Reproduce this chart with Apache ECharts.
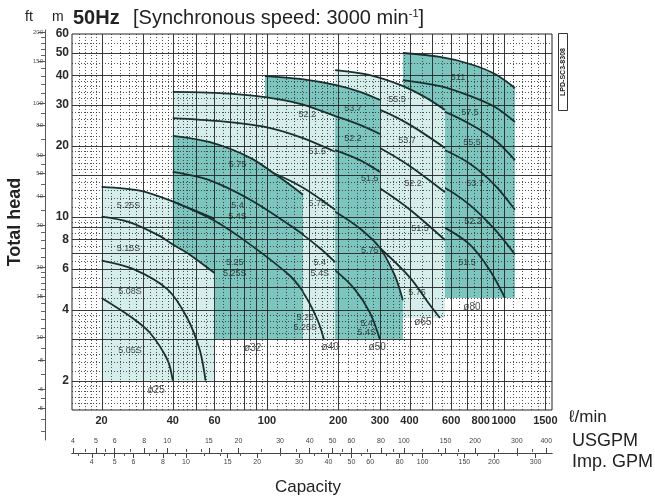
<!DOCTYPE html>
<html>
<head>
<meta charset="utf-8">
<title>LPD 50Hz</title>
<script src="https://cdn.jsdelivr.net/npm/echarts@6.0.0/dist/echarts.min.js"></script>
<style>
  html, body { margin: 0; padding: 0; background: #fff; }
  #chart { width: 655px; height: 499px; }
</style>
</head>
<body>
<div id="chart"></div>
<script>
// axis ranges: capacity (l/min) and total head (m)
const capRange = [15, 1600];
const headRange = [1.5, 60];
const ftRange = [3.66, 204.7];

// tick labels
const capTicks = [20, 40, 60, 100, 200, 300, 400, 600, 800, 1000, 1500];
const headTicks = [2, 4, 6, 8, 10, 20, 30, 40, 50, 60];
const ftTicks = [5, 6, 8, 10, 15, 20, 30, 40, 50, 60, 80, 100, 150, 200];
const ftMinorTicks = [4, 4.5, 5.5, 7, 9, 11, 12, 13, 14, 16, 17, 18, 19, 22, 24, 26, 28, 35, 45, 55, 70, 90, 110, 120, 130, 140, 160, 170, 180, 190];
const usgpmTicks = [4, 5, 6, 8, 10, 15, 20, 30, 40, 50, 60, 80, 100, 150, 200, 300, 400];
const usgpmMinorTicks = [4.5, 5.5, 7, 9, 12, 14, 17, 25, 35, 45, 55, 70, 90, 120, 140, 170, 250, 350];
const impTicks = [4, 5, 6, 8, 10, 15, 20, 30, 40, 50, 60, 80, 100, 150, 200, 300];
const impMinorTicks = [3.5, 4.5, 5.5, 7, 9, 12, 14, 17, 25, 35, 45, 55, 70, 90, 120, 140, 170, 250];
const LPM_PER_USGAL = 3.785;
const LPM_PER_IMPGAL = 4.546;

// graph paper lines
const capSolid = [20, 30, 40, 50, 60, 70, 80, 90, 100, 150, 200, 300, 400, 500, 600, 700, 800, 900, 1000, 1500];
const capDotted = [16, 17, 18, 19, 22, 24, 26, 28, 32, 34, 36, 38, 42, 44, 46, 48, 55, 65, 75, 85, 95,
  110, 120, 130, 140, 160, 170, 180, 190, 220, 240, 260, 280, 320, 340, 360, 380, 450, 550, 650, 750, 850, 950,
  1100, 1200, 1300, 1400];
const headSolid = [2, 3, 4, 5, 6, 7, 8, 9, 10, 15, 20, 30, 40, 50];
const headDotted = [1.6, 1.7, 1.8, 1.9, 2.2, 2.4, 2.6, 2.8, 3.2, 3.4, 3.6, 3.8, 4.5, 5.5, 6.5, 7.5, 8.5, 9.5,
  11, 12, 13, 14, 16, 17, 18, 19, 22, 24, 26, 28, 32, 34, 36, 38, 45, 55];

// pump curves [l/min, m]
// ø80
const c80_511 = [[375, 49.8], [538, 47.9], [720, 44.7], [919, 40.5], [1116, 35.3]];
const c80_575 = [[375, 38.2], [538, 36.0], [720, 32.7], [919, 29.3], [1116, 25.3]];
const c80_555 = [[375, 31.4], [538, 28.5], [720, 24.8], [919, 21.2], [1116, 17.4]];
const c80_537 = [[375, 22.3], [538, 19.6], [720, 16.8], [919, 13.6], [1116, 10.7]];
const c80_522 = [[375, 15.5], [538, 13.6], [720, 11.2], [919, 8.8], [1116, 6.9]];
const c80_515 = [[375, 10.7], [538, 9.2], [720, 7.6], [875, 5.9], [1013, 4.5]];
// ø65
const c65_555 = [[194, 42.1], [272, 40.1], [365, 36.4], [465, 32.3], [565, 28.5]];
const c65_537 = [[194, 33.0], [300, 28.5], [402, 24.6], [565, 19.6]];
const c65_522 = [[194, 24.6], [300, 19.6], [402, 16.4], [565, 12.7]];
const c65_515 = [[194, 17.4], [300, 13.2], [402, 10.7], [565, 7.95]];
const c65_575 = [[194, 10.7], [300, 7.35], [402, 5.5], [488, 4.2], [538, 3.7]];
// ø50
const c50_537 = [[98, 39.7], [138, 38.6], [194, 36.4], [247, 34.0], [300, 31.4]];
const c50_522 = [[98, 31.4], [138, 29.3], [194, 26.8], [247, 24.6], [300, 22.5]];
const c50_515 = [[98, 23.9], [138, 21.6], [194, 19.2], [247, 17.4], [300, 15.5]];
const c50_575 = [[98, 14.6], [138, 12.7], [194, 10.5], [247, 8.9], [300, 7.35], [347, 5.6], [375, 4.4]];
const c50_54 = [[98, 9.2], [138, 7.6], [194, 5.9], [235, 4.9], [272, 3.9], [300, 3.0]];
// ø40
const c40_522 = [[40, 34.0], [63, 33.6], [98, 32.3], [138, 30.2], [194, 26.8]];
const c40_515 = [[40, 26.3], [63, 25.5], [98, 24.1], [138, 21.8], [194, 18.9]];
const c40_575 = [[40, 19.2], [63, 17.8], [98, 15.8], [138, 13.5], [194, 10.7]];
const c40_54 = [[40, 15.5], [57, 14.3], [85, 11.8], [125, 9.2], [167, 7.35], [194, 6.4]];
const c40_525 = [[40, 11.6], [59, 9.5], [85, 7.6], [125, 5.6], [145, 4.6], [164, 3.6], [174, 3.0]];
// ø32
const c32_575 = [[40, 22.1], [57, 20.8], [85, 17.8], [113, 14.7], [142, 12.4]];
const c32_54 = [[40, 15.5], [57, 14.3], [85, 11.8], [125, 9.2], [142, 8.4]];
const c32_525 = [[40, 11.6], [60, 9.6], [85, 7.6], [125, 5.6], [142, 4.8]];
// ø25
const c25_525 = [[20, 13.4], [29, 12.9], [40, 11.6], [60, 9.8]];
const c25_515 = [[20, 10.0], [26, 9.5], [35, 8.3], [40, 7.6], [47, 6.9], [60, 5.75]];
const c25_508 = [[20, 6.5], [27, 6.0], [38, 4.9], [46, 3.7], [52, 2.7], [55, 2.0]];
const c25_505 = [[20, 4.5], [27, 3.7], [32, 3.2], [38, 2.45], [40, 2.0]];

// bottom head (m) of each range
const bottom80 = 4.5, bottom65 = 3.7, bottom50 = 3.0, bottom40 = 3.0, bottom32 = 3.0, bottom25 = 2.0;

// curve labels [l/min, m, text]
const modelLabels = [
  [26, 11.1, '5.25S'], [26, 7.3, '5.15S'], [26.4, 4.8, '5.08S'], [26.4, 2.7, '5.05S'],
  [75, 16.6, '5.75'], [75, 11.2, '5.4'], [75, 10.0, '5.4S'], [73, 6.4, '5.25'], [73, 5.75, '5.25S'],
  [148, 27.1, '52.2'], [163, 18.9, '51.5'], [163, 11.4, '5.75'], [167, 6.35, '5.4'], [167, 5.75, '5.4S'],
  [145, 3.7, '5.25'], [145, 3.38, '5.25S'],
  [231, 29.0, '53.7'], [231, 21.6, '52.2'], [272, 14.6, '51.5'], [272, 7.2, '5.75'], [264, 3.52, '5.4'], [264, 3.2, '5.4S'],
  [354, 31.4, '55.5'], [390, 21.2, '53.7'], [414, 13.9, '52.2'], [443, 8.9, '51.5'], [430, 4.73, '5.75'],
  [641, 39.3, '511'], [720, 27.9, '57.5'], [734, 20.6, '55.5'], [756, 13.9, '53.7'], [742, 9.5, '52.2'], [700, 6.35, '51.5']
];
const sizeLabels = [
  [34, 1.82, 'ø25'], [87, 2.76, 'ø32'], [185, 2.78, 'ø40'], [292, 2.78, 'ø50'], [456, 3.56, 'ø65'], [734, 4.1, 'ø80']
];

const TEAL = '#7cc6bf';
const LIGHT = '#d5eeeb';
const CURVE = '#15302f';
const FONT = 'Liberation Sans';

// region outlines built from the curves
const poly80 = [[c80_511[0][0], bottom80], ...c80_511, [c80_511[c80_511.length - 1][0], bottom80]];
const poly65 = [[c65_555[0][0], bottom65], ...c65_555, [c65_555[c65_555.length - 1][0], bottom65]];
const poly50 = [[c50_537[0][0], bottom50], ...c50_537, ...c50_575.filter(p => p[0] >= 300),
  [c50_575[c50_575.length - 1][0], bottom50]];
const poly40 = [[c40_522[0][0], bottom40], ...c40_522, [c40_522[c40_522.length - 1][0], bottom40]];
const poly25 = [[c25_525[0][0], bottom25], ...c25_525, [c25_525[c25_525.length - 1][0], bottom25]];
const poly32 = [...c32_575, [c32_575[c32_575.length - 1][0], bottom32], [60, bottom32],
  ...c25_515.filter(p => p[0] >= 40).reverse()];

function fillSeries(points, color, z) {
  return {
    type: 'custom', xAxisIndex: 0, yAxisIndex: 0, z: z, silent: true, clip: true,
    data: [points[0]],
    renderItem: function (params, api) {
      return {
        type: 'polygon',
        shape: { points: points.map(p => api.coord(p)) },
        style: { fill: color }
      };
    }
  };
}

function curveSeries(data, z) {
  return {
    type: 'line', xAxisIndex: 0, yAxisIndex: 0, z: z, silent: true,
    data: data, smooth: 0.3, symbol: 'none',
    lineStyle: { color: CURVE, width: 1.8 }
  };
}

function gridSeries(values, dir, style) {
  return {
    type: 'custom', xAxisIndex: 0, yAxisIndex: 0, z: 20, silent: true,
    data: values.map(v => dir === 'v' ? [v, headRange[0]] : [capRange[0], v]),
    renderItem: function (params, api) {
      let a, b;
      if (dir === 'v') {
        a = api.coord([api.value(0), headRange[0]]);
        b = api.coord([api.value(0), headRange[1]]);
        a[0] = b[0] = Math.round(a[0]) + 0.5;
      } else {
        a = api.coord([capRange[0], api.value(1)]);
        b = api.coord([capRange[1], api.value(1)]);
        a[1] = b[1] = Math.round(a[1]) + 0.5;
      }
      return { type: 'line', shape: { x1: a[0], y1: a[1], x2: b[0], y2: b[1] }, style: style };
    }
  };
}

const solidStyle = { stroke: '#262626', lineWidth: 1, opacity: 0.9 };
const dotStyle = { stroke: '#333', lineWidth: 1, lineDash: [1, 2], opacity: 0.85 };

function labelSeries(data, size) {
  return {
    type: 'scatter', xAxisIndex: 0, yAxisIndex: 0, z: 30, silent: true,
    data: data, symbolSize: 1, itemStyle: { color: 'rgba(0,0,0,0)' },
    label: {
      show: true, position: 'inside', formatter: p => p.value[2],
      fontFamily: FONT, fontSize: size, color: '#1a1a1a'
    }
  };
}

const numFmt = v => String(Math.round(v * 100) / 100);

const chart = echarts.init(document.getElementById('chart'));
chart.setOption({
  animation: false,
  backgroundColor: '#fff',
  grid: [
    { left: 72, top: 34, width: 480, height: 376, show: true, borderColor: '#222', borderWidth: 1,
      backgroundColor: 'transparent', outerBoundsMode: 'none' },
    { left: 45, top: 30, width: 1, height: 410, outerBoundsMode: 'none' },
    { left: 72, top: 452, width: 480, height: 1, outerBoundsMode: 'none' }
  ],
  xAxis: [
    { type: 'log', gridIndex: 0, min: capRange[0], max: capRange[1],
      axisLine: { show: false }, axisTick: { show: false }, splitLine: { show: false },
      axisLabel: { customValues: capTicks, formatter: numFmt, margin: 5,
        fontFamily: FONT, fontSize: 11, fontWeight: 'bold', color: '#2a2a2a' } },
    { type: 'value', gridIndex: 1, show: false },
    { type: 'log', gridIndex: 2, position: 'top',
      min: capRange[0] / LPM_PER_USGAL, max: capRange[1] / LPM_PER_USGAL,
      axisLine: { show: true, lineStyle: { color: '#444', width: 1 } },
      axisTick: { show: true, customValues: usgpmTicks, length: 5, lineStyle: { color: '#444' } },
      splitLine: { show: false },
      axisLabel: { customValues: usgpmTicks, formatter: numFmt, margin: 7,
        fontFamily: FONT, fontSize: 7, color: '#444' } },
    { type: 'log', gridIndex: 2, position: 'top',
      min: capRange[0] / LPM_PER_USGAL, max: capRange[1] / LPM_PER_USGAL,
      axisLine: { show: false }, splitLine: { show: false }, axisLabel: { show: false },
      axisTick: { show: true, customValues: usgpmMinorTicks, length: 3, lineStyle: { color: '#555' } } },
    { type: 'log', gridIndex: 2, position: 'bottom',
      min: capRange[0] / LPM_PER_IMPGAL, max: capRange[1] / LPM_PER_IMPGAL,
      axisLine: { show: true, lineStyle: { color: '#444', width: 1 } },
      axisTick: { show: true, customValues: impTicks, length: 5, lineStyle: { color: '#444' } },
      splitLine: { show: false },
      axisLabel: { customValues: impTicks, formatter: numFmt, margin: 6,
        fontFamily: FONT, fontSize: 7, color: '#444' } },
    { type: 'log', gridIndex: 2, position: 'bottom',
      min: capRange[0] / LPM_PER_IMPGAL, max: capRange[1] / LPM_PER_IMPGAL,
      axisLine: { show: false }, splitLine: { show: false }, axisLabel: { show: false },
      axisTick: { show: true, customValues: impMinorTicks, length: 3, lineStyle: { color: '#555' } } }
  ],
  yAxis: [
    { type: 'log', gridIndex: 0, min: headRange[0], max: headRange[1],
      axisLine: { show: false }, axisTick: { show: false }, splitLine: { show: false },
      axisLabel: { customValues: headTicks, formatter: numFmt, margin: 3,
        fontFamily: FONT, fontSize: 12, fontWeight: 'bold', color: '#2a2a2a' } },
    { type: 'log', gridIndex: 1, min: ftRange[0], max: ftRange[1], position: 'left',
      axisLine: { show: true, lineStyle: { color: '#555', width: 1 } },
      axisTick: { show: true, customValues: ftTicks, length: 7, lineStyle: { color: '#555' } },
      splitLine: { show: false },
      axisLabel: { customValues: ftTicks, formatter: numFmt, margin: 2,
        fontFamily: FONT, fontSize: 6, color: '#555' } },
    { type: 'log', gridIndex: 1, min: ftRange[0], max: ftRange[1], position: 'left',
      axisLine: { show: false }, splitLine: { show: false }, axisLabel: { show: false },
      axisTick: { show: true, customValues: ftMinorTicks, length: 4, lineStyle: { color: '#666' } } },
    { type: 'value', gridIndex: 2, show: false }
  ],
  graphic: [
    { type: 'text', left: 25, top: 10, style: { text: 'ft', font: '14px ' + FONT, fill: '#222' } },
    { type: 'text', left: 52, top: 10, style: { text: 'm', font: '14px ' + FONT, fill: '#222' } },
    { type: 'text', left: 73, top: 8, style: { text: '50Hz', font: 'bold 20px ' + FONT, fill: '#222' } },
    { type: 'text', left: 133, top: 8, style: {
        text: '[Synchronous speed: 3000 min{sup|-1}]',
        font: '20px ' + FONT, fill: '#222',
        rich: { sup: { fontSize: 11, fontFamily: FONT, verticalAlign: 'top', fill: '#222' } } } },
    { type: 'text', x: 15, y: 222, rotation: Math.PI / 2,
      style: { text: 'Total head', font: 'bold 18px ' + FONT, fill: '#222', align: 'center', verticalAlign: 'middle' } },
    { type: 'text', x: 308, y: 487,
      style: { text: 'Capacity', font: '17px ' + FONT, fill: '#222', align: 'center', verticalAlign: 'middle' } },
    { type: 'text', left: 569, top: 409, style: { text: 'ℓ/min', font: '17px ' + FONT, fill: '#222' } },
    { type: 'text', left: 572, top: 432, style: { text: 'USGPM', font: '18px ' + FONT, fill: '#222' } },
    { type: 'text', left: 572, top: 453, style: { text: 'Imp. GPM', font: '18px ' + FONT, fill: '#222' } },
    { type: 'rect', shape: { x: 558.5, y: 33.5, width: 9, height: 77 },
      style: { fill: '#fff', stroke: '#333', lineWidth: 1 } },
    { type: 'text', x: 563, y: 72, rotation: Math.PI / 2,
      style: { text: 'LPD-SC3-8308', font: 'bold 7px ' + FONT, fill: '#222', align: 'center', verticalAlign: 'middle' } }
  ],
  series: [
    fillSeries(poly80, TEAL, 1),
    curveSeries(c80_511, 2), curveSeries(c80_575, 2), curveSeries(c80_555, 2),
    curveSeries(c80_537, 2), curveSeries(c80_522, 2), curveSeries(c80_515, 2),
    fillSeries(poly65, LIGHT, 3),
    curveSeries(c65_555, 4), curveSeries(c65_537, 4), curveSeries(c65_522, 4),
    curveSeries(c65_515, 4), curveSeries(c65_575, 4),
    fillSeries(poly50, TEAL, 5),
    curveSeries(c50_537, 6), curveSeries(c50_522, 6), curveSeries(c50_515, 6),
    curveSeries(c50_575, 6), curveSeries(c50_54, 6),
    fillSeries(poly40, LIGHT, 7),
    curveSeries(c40_522, 8), curveSeries(c40_515, 8), curveSeries(c40_575, 8),
    curveSeries(c40_54, 8), curveSeries(c40_525, 8),
    fillSeries(poly25, LIGHT, 9),
    fillSeries(poly32, TEAL, 10),
    curveSeries(c32_575, 11), curveSeries(c32_54, 11), curveSeries(c32_525, 11),
    curveSeries(c25_525, 11), curveSeries(c25_515, 11), curveSeries(c25_508, 11), curveSeries(c25_505, 11),
    gridSeries(capDotted, 'v', dotStyle),
    gridSeries(headDotted, 'h', dotStyle),
    gridSeries(capSolid, 'v', solidStyle),
    gridSeries(headSolid, 'h', solidStyle),
    labelSeries(modelLabels, 9),
    labelSeries(sizeLabels, 10)
  ]
});
</script>
</body>
</html>
